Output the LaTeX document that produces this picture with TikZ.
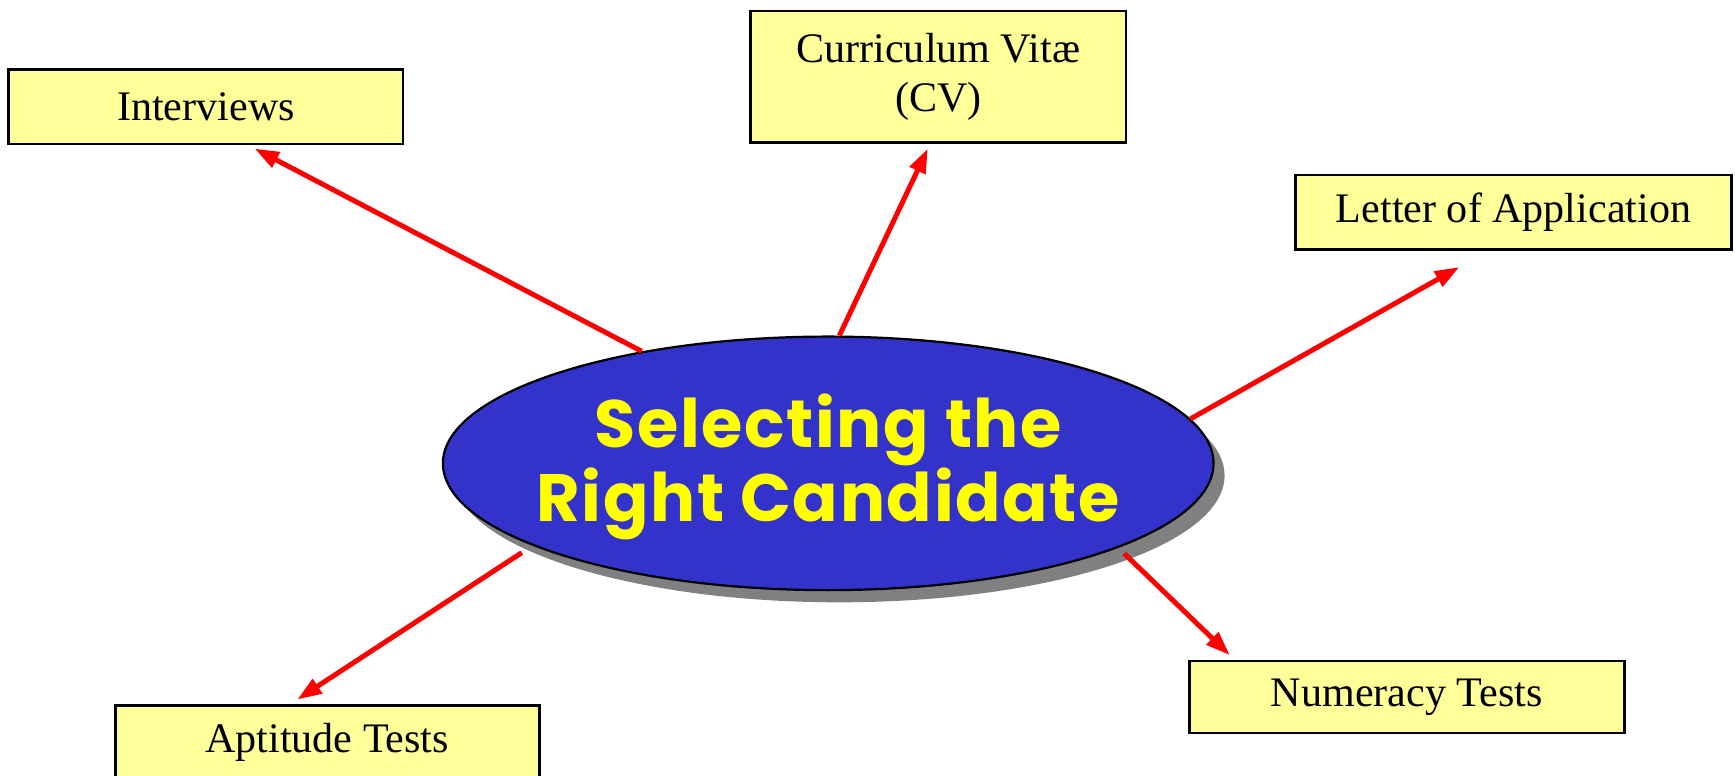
\documentclass[tikz,border=0pt]{standalone}
\usepackage{fontspec}
\setmainfont{Liberation Serif}
\newfontfamily\roundfont[LetterSpace=2.5]{Poppins}
\usetikzlibrary{shapes.geometric,shadows,arrows.meta}
\definecolor{boxyellow}{HTML}{FFFF99}
\definecolor{ellblue}{HTML}{3333CC}
\definecolor{txtyellow}{HTML}{FFFF00}
\begin{document}
\begin{tikzpicture}[x=1pt,y=-1pt]
        \tikzset{topic/.style = {draw,line width=2.5pt,fill=boxyellow,inner sep=0pt,
            font=\fontsize{38}{44}\selectfont,align=center}}
        \tikzset{link/.style = {red,line width=4.5pt,-{Triangle[length=22pt,width=15pt]}}}
        \useasboundingbox (0,0) rectangle (1567,700);
        % centre
        \node[ellipse,draw,line width=2pt,fill=ellblue,minimum width=696pt,minimum height=229pt,
            drop shadow={shadow xshift=10pt,shadow yshift=-11pt,fill=gray,opacity=1},
            label={[name=title,text=txtyellow,align=center,yshift=-3pt,
                font=\roundfont\bfseries\fontsize{60.5}{67}\selectfont]center:Selecting the\\Right Candidate}]
            (ell) at (748,418.5) {};
        % boxes at the top
        \node[topic,minimum width=356pt,minimum height=67pt] (intv) at (186,96.5) {Interviews};
        \node[topic,minimum width=339pt,minimum height=119pt] (cv) at (847.5,69.5) {Curriculum Vit\ae\\(CV)};
        \node[topic,minimum width=394pt,minimum height=67pt] (letter) at (1367,191.5) {Letter of Application};
        % boxes at the bottom
        \node[topic,minimum width=393pt,minimum height=65pt] (numer) at (1270.5,629.5) {Numeracy Tests};
        \node[topic,minimum width=383pt,minimum height=67pt] (apti) at (295.5,670.5) {Aptitude Tests};
        % arrows
        \draw[link] (ell.149) -- ([xshift=44pt,yshift=-3pt]intv.south);
        \draw[link] (ell.85) -- ([xshift=-9.5pt,yshift=-4pt]cv.south);
        \draw[link] (ell.7) -- ([xshift=-49pt,yshift=-15pt]letter.south);
        \draw[link] ([xshift=11pt,yshift=-3pt]ell.-17) -- ([xshift=38pt,yshift=4pt]numer.north west);
        \draw[link] ([xshift=-13pt,yshift=-5pt]ell.196) -- ([xshift=-27pt,yshift=4pt]apti.north);
\end{tikzpicture}
\end{document}
